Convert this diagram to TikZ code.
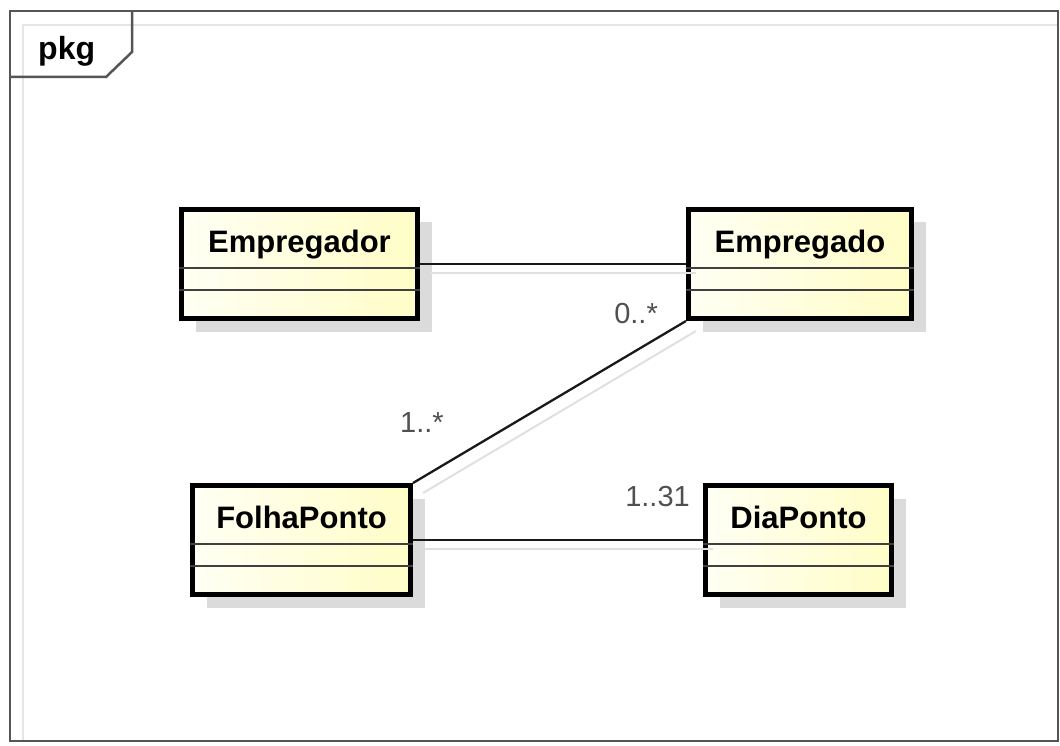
\documentclass[tikz,border=0pt]{standalone}
\usepackage{fontspec}
\setmainfont{Liberation Sans}
\usetikzlibrary{shadows}

\definecolor{frameGray}{HTML}{555555}
\definecolor{classLight}{HTML}{FFFFF4}
\definecolor{classDark}{HTML}{FFFDC6}
\definecolor{multGray}{HTML}{505050}

\begin{document}
\begin{tikzpicture}[
    x=1pt, y=-1pt,
    classbox/.style={rectangle, draw=black, line width=5pt, left color=classLight, right color=classDark,
        drop shadow={shadow xshift=14pt, shadow yshift=-13pt, fill=black!14, opacity=1},
        minimum height=109pt, inner sep=0pt},
    classname/.style={font=\fontsize{31}{36}\selectfont\bfseries, anchor=base, inner sep=0pt},
    divider/.style={draw=black!75, line width=1.8pt},
    assoc/.style={draw=black!90, line width=2.3pt},
    assocshadow/.style={draw=black!12, line width=2pt},
    mult/.style={font=\fontsize{29}{34}\selectfont, text=multGray, inner sep=0pt},
    frame/.style={draw=frameGray, line width=2.5pt}
]
    \useasboundingbox (0,0) rectangle (1060,746);

    % package frame
    \draw[draw=black!10, line width=2pt] (23,741) -- (23,25) -- (1057,25);
    \draw[frame] (10,11) rectangle (1058,741);
    \draw[frame] (10,77) -- (106,77) -- (132,52) -- (132,11);
    \node[font=\fontsize{32}{36}\selectfont\bfseries, anchor=base west, inner sep=0pt] (pkg) at (38,60) {pkg};

    % classes
    \foreach \id/\txt/\cx/\cy/\w in {empregador/Empregador/299.5/264/236,
                                     empregado/Empregado/800/264/223,
                                     folha/FolhaPonto/301.5/540/218,
                                     dia/DiaPonto/798.5/540/186} {
        \node[classbox, minimum width=\w pt] (\id) at (\cx,\cy) {};
        \node[classname] (\id-name) at ([yshift=-45pt]\id.north) {\txt};
        \draw[divider] ([yshift=-61pt]\id.north west) -- ([yshift=-61pt]\id.north east);
        \draw[divider] ([yshift=-83pt]\id.north west) -- ([yshift=-83pt]\id.north east);
    }

    % associations
    \draw[assocshadow] ([shift={(10,9)}]empregador.east) -- ([shift={(10,9)}]empregado.west);
    \draw[assocshadow] ([shift={(10,10)}]folha.north east) -- ([shift={(10,10)}]empregado.south west);
    \draw[assocshadow] ([shift={(10,9)}]folha.east) -- ([shift={(10,9)}]dia.west);
    \draw[assoc] (empregador) -- (empregado);
    \draw[assoc] (folha.north east) -- (empregado.south west);
    \draw[assoc] (folha) -- (dia);

    % multiplicities
    \node[mult, anchor=base east] (m-empregado) at ([shift={(-28,2)}]empregado.south west) {0..*};
    \node[mult, anchor=base west] (m-folha) at ([shift={(-13,-51)}]folha.north east) {1..*};
    \node[mult, anchor=base east] (m-dia) at ([shift={(-13,23)}]dia.north west) {1..31};
\end{tikzpicture}
\end{document}
